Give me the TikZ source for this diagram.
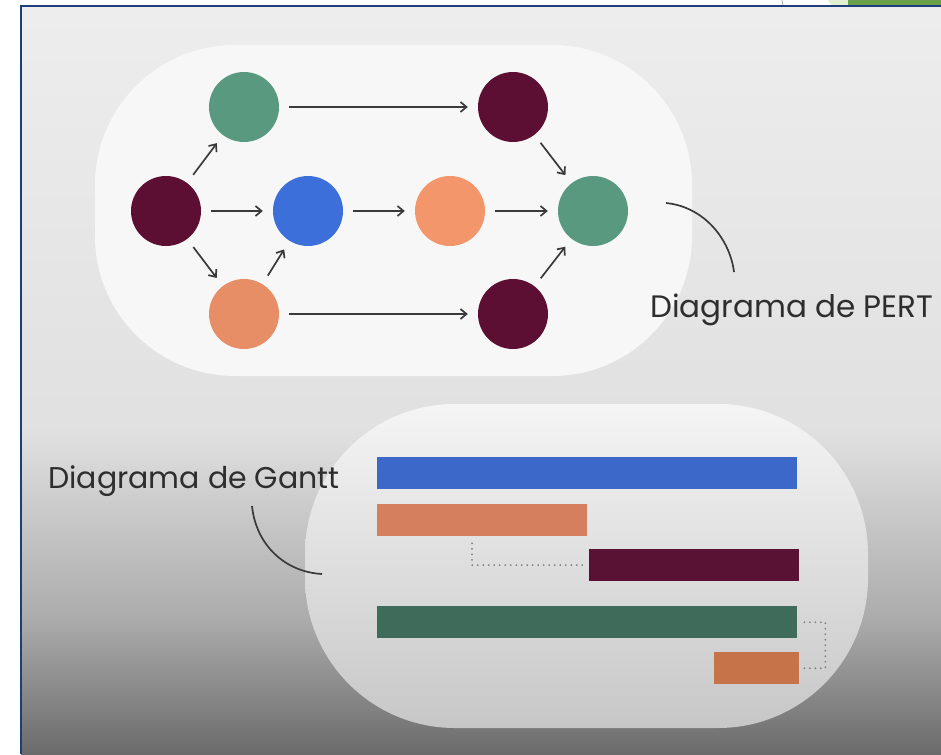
\documentclass[tikz,border=0pt]{standalone}
\usepackage{fontspec}
\setmainfont{Poppins}
\usetikzlibrary{arrows.meta,calc}

\definecolor{wine}{HTML}{5C0F32}
\definecolor{sage}{HTML}{58997F}
\definecolor{azure}{HTML}{3D6FDA}
\definecolor{peach}{HTML}{F4966B}
\definecolor{barblue}{HTML}{3C68C9}
\definecolor{barpeach}{HTML}{D57F5E}
\definecolor{barwine}{HTML}{5A1234}
\definecolor{barsage}{HTML}{3E6B5A}
\definecolor{barpeachdark}{HTML}{C77349}
\definecolor{ink}{HTML}{3A3A3A}
\definecolor{labelink}{HTML}{2E2E2E}
\definecolor{framecol}{HTML}{1E3D7C}
\definecolor{tabgreen}{HTML}{6AA04A}
\definecolor{tablight}{HTML}{E2EFD0}

\begin{document}
\begin{tikzpicture}[x=1pt,y=-1pt,
  pnode/.style={circle,minimum size=70pt,inner sep=0pt,draw=none},
  arr/.style={draw=ink,line width=1.7pt,-{Straight Barb[length=6pt,width=10pt]},
    shorten >=10pt,shorten <=10pt},
  bar/.style={rectangle,minimum height=32pt,inner sep=0pt,draw=none,anchor=north west},
  dots/.style={draw=black!50,line width=2pt,line cap=round,dash pattern=on 0pt off 5.5pt},
  callout/.style={draw=ink,line width=1.7pt},
  label/.style={text=labelink,inner sep=0pt}]

\useasboundingbox (0,0) rectangle (941,754);

% page background and window frame
\fill[white] (0,0) rectangle (941,754);
\fill[tablight] (828,0) -- (848,0) -- (848,6) -- (832,6) -- cycle;
\fill[tabgreen] (848,0) -- (941,0) -- (941,6) -- (848,6) -- cycle;
\draw[gray!60,line width=0.8pt] (782,0) -- (783,6);
\shade[top color=black!7,bottom color=black!12] (21,6) rectangle (941,431);
\shade[top color=black!12,bottom color=black!33] (21,430) rectangle (941,621);
\shade[top color=black!33,bottom color=black!58] (21,620) rectangle (941,754);
\draw[framecol,line width=2.5pt] (21,754) -- (21,6) -- (941,6);

% rounded panels
\fill[black!3,rounded corners=140pt] (95,45) rectangle (692,376);
\shade[top color=black!4,bottom color=black!22,rounded corners=150pt]
  (305,404) rectangle (868,728);

% PERT network
\node[pnode,fill=wine]  (start) at (166,211) {};
\node[pnode,fill=sage]  (up1)   at (244,107) {};
\node[pnode,fill=wine]  (up2)   at (513,107) {};
\node[pnode,fill=azure] (mid1)  at (308,211) {};
\node[pnode,fill=peach] (mid2)  at (450,211) {};
\node[pnode,fill=sage]  (end)   at (593,211) {};
\node[pnode,fill=peach!95!black] (low1) at (244,314) {};
\node[pnode,fill=wine]  (low2)  at (513,314) {};

\draw[arr] (start) -- (up1);
\draw[arr] (start) -- (mid1);
\draw[arr] (start) -- (low1);
\draw[arr] (low1) -- (mid1);
\draw[arr] (mid1) -- (mid2);
\draw[arr] (mid2) -- (end);
\draw[arr] (up1) -- (up2);
\draw[arr] (low1) -- (low2);
\draw[arr] (up2) -- (end);
\draw[arr] (low2) -- (end);

% Gantt bars
\node[bar,fill=barblue,minimum width=420pt] (t1) at (377,457) {};
\node[bar,fill=barpeach,minimum width=210pt] (t2) at (377,504) {};
\node[bar,fill=barwine,minimum width=210pt] (t3) at (589,549) {};
\node[bar,fill=barsage,minimum width=420pt] (t4) at (377,606) {};
\node[bar,fill=barpeachdark,minimum width=85pt] (t5) at (714,652) {};

\coordinate (t2drop) at ($(t2.south west)+(95,7)$);
\draw[dots,shorten >=4pt] (t2drop) |- (t3.west);
\draw[dots] ([xshift=7pt]t4.east) -- ++(21,0) |- ([xshift=5pt]t5.east);

% labels with their leader curves
\node[label,font=\fontsize{31}{35}\selectfont,anchor=base west] (pertlabel) at (650,317) {Diagrama de PERT};
\node[label,font=\fontsize{30}{34}\selectfont,anchor=base west] (ganttlabel) at (48,488) {Diagrama de Gantt};

\coordinate (pa) at (666,203);
\coordinate (pb) at (734,272);
\draw[callout] (pa) .. controls (705,207) and (730,240) .. (pb);
\coordinate (ga) at (252,506);
\coordinate (gb) at (322,574);
\draw[callout] (ga) .. controls (256,545) and (285,572) .. (gb);
\end{tikzpicture}
\end{document}
